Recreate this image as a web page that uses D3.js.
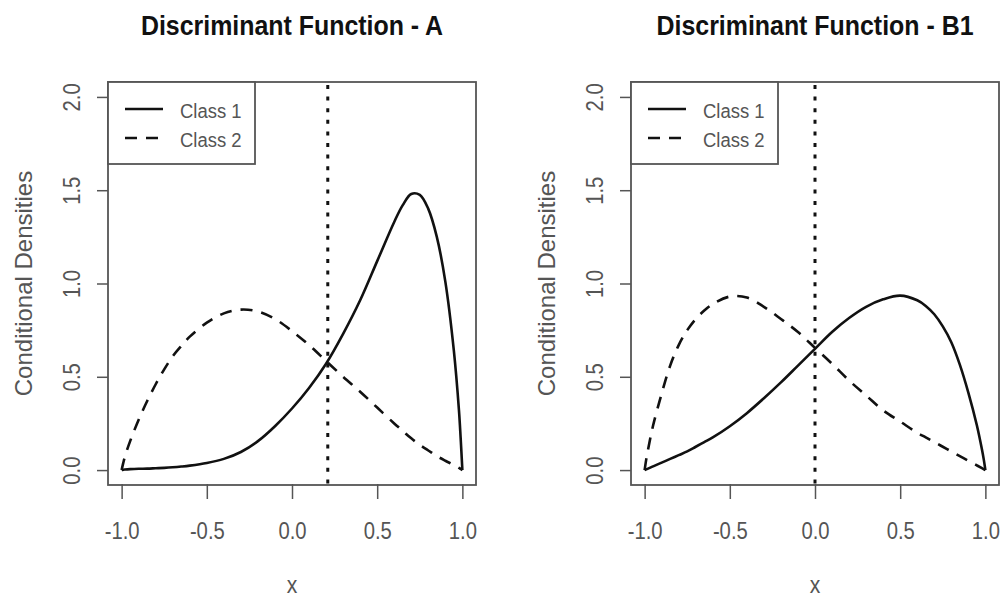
<!DOCTYPE html>
<html>
<head>
<meta charset="utf-8">
<script src="https://cdn.jsdelivr.net/npm/d3@7"></script>
<style>
  body { margin: 0; background: #fff; }
  svg { display: block; font-family: "Liberation Sans", Arial, sans-serif; }
</style>
</head>
<body>
<div id="chart"></div>
<script>
// chart values
var panelTitles = ["Discriminant Function - A", "Discriminant Function - B1"];
var seriesNames = ["Class 1", "Class 2"];
var cutPoints = [0.21, 0.0];

var xTicks = [-1.0, -0.5, 0.0, 0.5, 1.0];
var yTicks = [0.0, 0.5, 1.0, 1.5, 2.0];

var xs = [-1, -0.99, -0.98, -0.95, -0.9, -0.85, -0.8, -0.75, -0.7, -0.65, -0.6, -0.5, -0.4, -0.3, -0.2, -0.1,
  0, 0.1, 0.2, 0.3, 0.4, 0.5, 0.6, 0.65, 0.7, 0.75, 0.8, 0.85, 0.9, 0.95, 0.98, 0.99, 1];

var aClass1 = [0, 0.002, 0.003, 0.005, 0.007, 0.008, 0.01, 0.012, 0.015, 0.019, 0.024, 0.038, 0.06, 0.097, 0.155, 0.235,
  0.33, 0.44, 0.57, 0.73, 0.91, 1.12, 1.33, 1.42, 1.48, 1.475, 1.40, 1.25, 1.01, 0.64, 0.32, 0.17, 0];
var aClass2 = [0, 0.04, 0.075, 0.155, 0.27, 0.37, 0.46, 0.54, 0.61, 0.665, 0.715, 0.79, 0.84, 0.86, 0.85, 0.81,
  0.745, 0.67, 0.585, 0.50, 0.42, 0.335, 0.25, 0.21, 0.17, 0.135, 0.105, 0.075, 0.05, 0.027, 0.012, 0.006, 0];

var bClass1 = [0, 0.004, 0.008, 0.02, 0.04, 0.06, 0.08, 0.10, 0.125, 0.15, 0.175, 0.235, 0.305, 0.385, 0.47, 0.56,
  0.65, 0.74, 0.815, 0.875, 0.915, 0.935, 0.91, 0.88, 0.835, 0.77, 0.685, 0.565, 0.415, 0.24, 0.11, 0.06, 0];
var bClass2 = [0, 0.06, 0.11, 0.24, 0.41, 0.56, 0.67, 0.75, 0.81, 0.855, 0.89, 0.93, 0.925, 0.875, 0.81, 0.74,
  0.655, 0.57, 0.48, 0.40, 0.32, 0.26, 0.20, 0.175, 0.15, 0.125, 0.10, 0.075, 0.05, 0.025, 0.01, 0.005, 0];

var panelSeries = [[aClass1, aClass2], [bClass1, bClass2]];

// SVG dimensions
var svgWidth = 1000;
var svgHeight = 599;

var panelLeft = [108, 631];
var plotWidth = 368;
var plotTop = 82;
var plotBottom = 485;

var ink = "#111";
var gray = "#555";
var squeeze = 0.88;

var svg = d3.select("#chart")
  .append("svg")
  .attr("width", svgWidth)
  .attr("height", svgHeight);

svg.append("rect")
  .attr("width", svgWidth)
  .attr("height", svgHeight)
  .attr("fill", "#fff");

var yScale = d3.scaleLinear()
  .domain([-0.08, 2.08])
  .range([plotBottom, plotTop]);

panelTitles.forEach(function(title, p) {
  var left = panelLeft[p];
  var xScale = d3.scaleLinear()
    .domain([-1.08, 1.08])
    .range([left, left + plotWidth]);
  var midX = left + plotWidth / 2;

  var g = svg.append("g");

  // title
  g.append("text")
    .attr("transform", `translate(${midX}, 35) scale(0.89, 1)`)
    .attr("text-anchor", "middle")
    .attr("font-size", 28)
    .attr("font-weight", "bold")
    .attr("fill", ink)
    .text(title);

  // x axis
  var xAxis = d3.axisBottom(xScale)
    .tickValues(xTicks)
    .tickSize(15)
    .tickFormat(d => d.toFixed(1));

  var xg = g.append("g")
    .attr("transform", `translate(0, ${plotBottom - 1})`)
    .call(xAxis);
  xg.select(".domain").remove();
  xg.selectAll(".tick line").attr("stroke", gray).attr("stroke-width", 1.5);
  xg.selectAll(".tick text")
    .attr("y", 55)
    .attr("dy", null)
    .attr("transform", `scale(${squeeze}, 1)`)
    .attr("font-size", 23)
    .attr("font-family", "Liberation Sans, Arial, sans-serif")
    .attr("fill", gray);

  // y axis
  var yAxis = d3.axisLeft(yScale)
    .tickValues(yTicks)
    .tickSize(11)
    .tickFormat(d => d.toFixed(1));

  var yg = g.append("g")
    .attr("transform", `translate(${left}, 0)`)
    .call(yAxis);
  yg.select(".domain").remove();
  yg.selectAll(".tick line").attr("stroke", gray).attr("stroke-width", 1.5);
  yg.selectAll(".tick text")
    .attr("x", 0)
    .attr("y", -28)
    .attr("dy", null)
    .attr("text-anchor", "middle")
    .attr("transform", `rotate(-90) scale(${squeeze}, 1)`)
    .attr("font-size", 23)
    .attr("font-family", "Liberation Sans, Arial, sans-serif")
    .attr("fill", gray);

  // axis labels
  g.append("text")
    .attr("transform", `translate(${midX}, 593) scale(${squeeze}, 1)`)
    .attr("text-anchor", "middle")
    .attr("font-size", 24)
    .attr("fill", gray)
    .text("x");

  g.append("text")
    .attr("transform", `translate(${left - 76}, ${(plotTop + plotBottom) / 2}) rotate(-90)`)
    .attr("text-anchor", "middle")
    .attr("font-size", 24)
    .attr("fill", gray)
    .text("Conditional Densities");

  // curves
  var line = d3.line()
    .x((d, i) => xScale(xs[i]))
    .y(d => yScale(d))
    .curve(d3.curveCatmullRom.alpha(0.5));

  var dashes = [null, "12,9"];
  panelSeries[p].forEach(function(vals, s) {
    g.append("path")
      .datum(vals)
      .attr("d", line)
      .attr("fill", "none")
      .attr("stroke", ink)
      .attr("stroke-width", 2.6)
      .attr("stroke-linejoin", "round")
      .attr("stroke-dasharray", dashes[s]);
  });

  // cut point
  g.append("line")
    .attr("x1", xScale(cutPoints[p]))
    .attr("x2", xScale(cutPoints[p]))
    .attr("y1", plotTop + 3)
    .attr("y2", plotBottom)
    .attr("stroke", ink)
    .attr("stroke-width", 3)
    .attr("stroke-dasharray", "4,7.6");

  // plot box
  g.append("rect")
    .attr("x", left)
    .attr("y", plotTop)
    .attr("width", plotWidth)
    .attr("height", plotBottom - plotTop)
    .attr("fill", "none")
    .attr("stroke", gray)
    .attr("stroke-width", 1.8);

  // legend
  var lg = g.append("g")
    .attr("transform", `translate(${left}, ${plotTop})`);

  lg.append("rect")
    .attr("width", 147)
    .attr("height", 82)
    .attr("fill", "#fff")
    .attr("stroke", gray)
    .attr("stroke-width", 1.8);

  seriesNames.forEach(function(name, s) {
    var rowY = 27 + s * 29;
    lg.append("line")
      .attr("x1", 17)
      .attr("x2", 55)
      .attr("y1", rowY)
      .attr("y2", rowY)
      .attr("stroke", ink)
      .attr("stroke-width", 2.6)
      .attr("stroke-dasharray", dashes[s]);
    lg.append("text")
      .attr("transform", `translate(72, ${rowY + 9}) scale(${squeeze}, 1)`)
      .attr("font-size", 21)
      .attr("fill", gray)
      .text(name);
  });
});
</script>
</body>
</html>
